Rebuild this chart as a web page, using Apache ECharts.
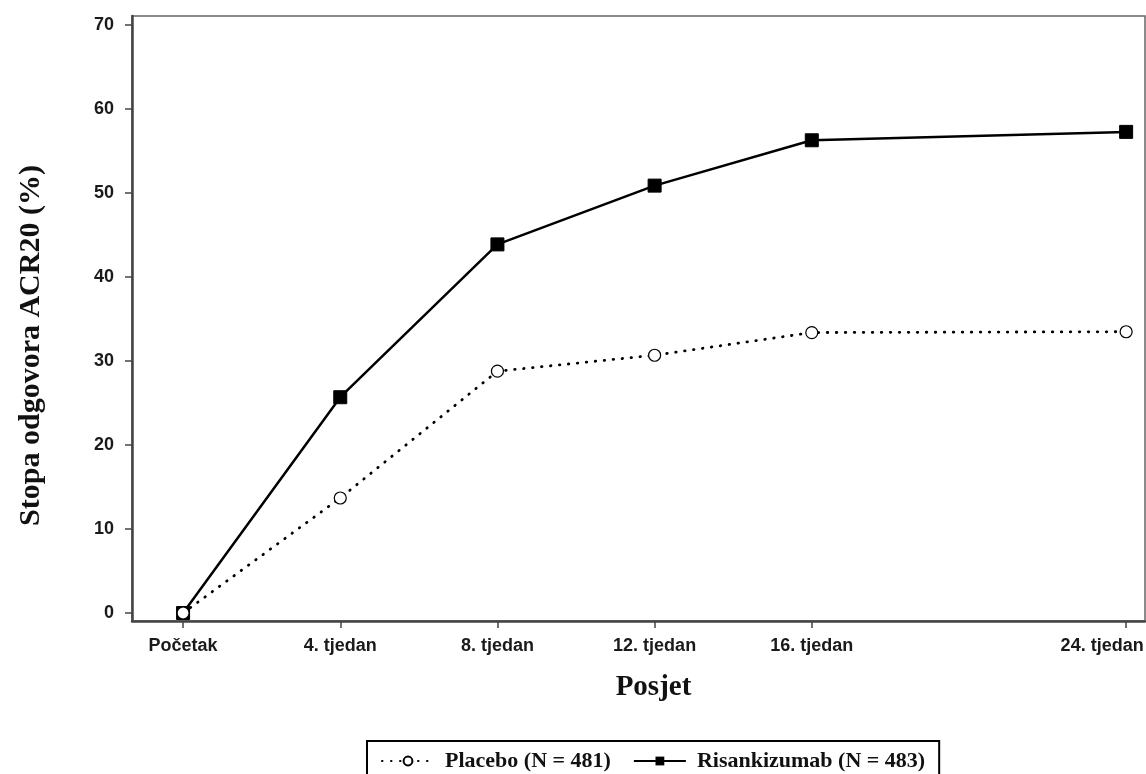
<!DOCTYPE html>
<html>
<head>
<meta charset="utf-8">
<script src="https://cdn.jsdelivr.net/npm/echarts@6/dist/echarts.min.js"></script>
<style>html,body{margin:0;padding:0;background:#fff;}#c{width:1146px;height:774px;}</style>
</head>
<body>
<div id="c"></div>
<script>
const weeks = [0, 4, 8, 12, 16, 24];
const xTickLabels = ['Početak', '4. tjedan', '8. tjedan', '12. tjedan', '16. tjedan', '24. tjedan'];
const yTicks = [0, 10, 20, 30, 40, 50, 60, 70];
const placebo = [0, 13.7, 28.8, 30.7, 33.4, 33.5];
const risankizumab = [0, 25.7, 43.9, 50.9, 56.3, 57.3];
const namePlacebo = 'Placebo (N = 481)';
const nameRisa = 'Risankizumab (N = 483)';

const chart = echarts.init(document.getElementById('c'), null, {renderer: 'canvas'});
const labelMap = {};
weeks.forEach((w, i) => labelMap[w] = xTickLabels[i]);
const lastWeek = weeks[weeks.length - 1];

const labelFont = {fontFamily: 'Liberation Sans', fontWeight: 'bold', fontSize: 18, color: '#1a1a1a'};

chart.setOption({
  backgroundColor: '#fff',
  animation: false,
  grid: {left: 132, right: 1, top: 16, bottom: 153, containLabel: false, outerBoundsMode: 'none',
         show: true, borderColor: '#666', borderWidth: 1.5},
  xAxis: {
    type: 'value', min: -1.3, max: 24.48,
    name: 'Posjet', nameLocation: 'middle', nameGap: 52,
    nameTextStyle: {fontFamily: 'Liberation Serif', fontWeight: 'bold', fontSize: 29, color: '#111',
                    padding: [0, 0, 0, 30]},
    axisLine: {show: true, onZero: false, lineStyle: {color: '#444', width: 2.5}},
    axisTick: {show: true, customValues: weeks, length: 7, lineStyle: {color: '#444', width: 1.5}},
    axisLabel: Object.assign({customValues: weeks, margin: 16, hideOverlap: false,
                formatter: v => v === lastWeek ? '{last|' + labelMap[v] + '}' : (labelMap[v] !== undefined ? labelMap[v] : ''),
                rich: {last: Object.assign({padding: [0, 48, 0, 0]}, labelFont)}}, labelFont),
    splitLine: {show: false}
  },
  yAxis: {
    type: 'value', min: -0.95, max: 71.1,
    name: 'Stopa odgovora ACR20 (%)', nameLocation: 'middle', nameGap: 86,
    nameTextStyle: {fontFamily: 'Liberation Serif', fontWeight: 'bold', fontSize: 30, color: '#111',
                    padding: [0, 54, 0, 0]},
    axisLine: {show: true, onZero: false, lineStyle: {color: '#444', width: 2.5}},
    axisTick: {show: true, customValues: yTicks, length: 7, lineStyle: {color: '#444', width: 1.5}},
    axisLabel: Object.assign({customValues: yTicks, margin: 18}, labelFont),
    splitLine: {show: false}
  },
  legend: {
    data: [namePlacebo, nameRisa],
    left: 367, top: 741,
    orient: 'horizontal',
    itemWidth: 52, itemHeight: 11, itemGap: 22,
    padding: [9, 14, 14, 14],
    borderColor: '#000', borderWidth: 2,
    textStyle: {fontFamily: 'Liberation Serif', fontWeight: 'bold', fontSize: 22, color: '#111',
                padding: [0, 0, 0, 6]}
  },
  series: [
    {
      name: nameRisa, type: 'line',
      data: weeks.map((w, i) => [w, risankizumab[i]]),
      symbol: 'rect', symbolSize: 13,
      lineStyle: {color: '#000', width: 2.5},
      itemStyle: {color: '#000', borderColor: '#000'},
      z: 2
    },
    {
      name: namePlacebo, type: 'line',
      data: weeks.map((w, i) => [w, placebo[i]]),
      symbol: 'circle', symbolSize: 12,
      showAllSymbol: true,
      lineStyle: {color: '#000', width: 2.8, type: [0.5, 8.5], cap: 'round'},
      itemStyle: {color: '#fff', borderColor: '#000', borderWidth: 1.2},
      z: 3
    }
  ]
});
</script>
</body>
</html>
